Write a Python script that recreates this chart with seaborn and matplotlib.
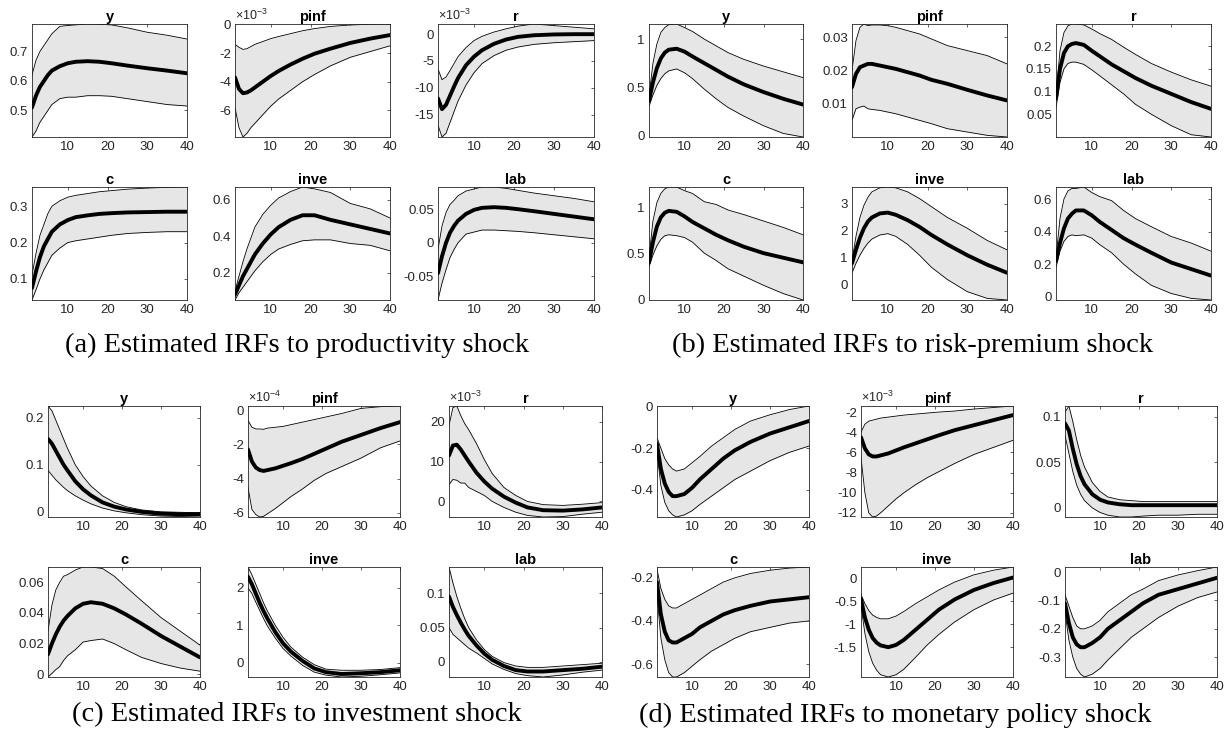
import numpy as np
import pandas as pd
import matplotlib
matplotlib.use("Agg")
import matplotlib.pyplot as plt
import seaborn as sns
from matplotlib.ticker import FuncFormatter

# ---------------- data ----------------
horizons = [1, 2, 3, 4, 5, 6, 8, 10, 12, 15, 18, 21, 25, 30, 35, 40]
variables = ["y", "pinf", "r", "c", "inve", "lab"]
captions = ["(a) Estimated IRFs to productivity shock",
            "(b) Estimated IRFs to risk-premium shock",
            "(c) Estimated IRFs to investment shock",
            "(d) Estimated IRFs to monetary policy shock"]

# (a) productivity shock
prod_y_mean = [0.51, 0.55, 0.58, 0.60, 0.62, 0.635, 0.65, 0.66, 0.665, 0.667, 0.665, 0.66, 0.652, 0.643, 0.635, 0.626]
prod_y_upper = [0.62, 0.67, 0.70, 0.72, 0.74, 0.76, 0.785, 0.788, 0.79, 0.793, 0.792, 0.79, 0.78, 0.765, 0.755, 0.742]
prod_y_lower = [0.41, 0.43, 0.46, 0.48, 0.50, 0.52, 0.54, 0.545, 0.545, 0.55, 0.55, 0.548, 0.54, 0.53, 0.52, 0.515]
prod_pinf_mean = [-3.7, -4.5, -4.8, -4.75, -4.6, -4.4, -4.0, -3.6, -3.25, -2.8, -2.4, -2.05, -1.7, -1.3, -1.0, -0.75]
prod_pinf_upper = [-1.4, -1.6, -1.75, -1.7, -1.55, -1.4, -1.2, -1.0, -0.85, -0.65, -0.45, -0.3, -0.15, -0.05, 0.0, 0.02]
prod_pinf_lower = [-5.8, -7.2, -7.85, -7.6, -7.2, -6.9, -6.3, -5.7, -5.2, -4.6, -4.0, -3.5, -2.9, -2.3, -1.9, -1.5]
prod_r_mean = [-12.0, -14.0, -13.2, -11.5, -9.8, -8.2, -5.8, -4.2, -3.0, -1.8, -1.0, -0.5, -0.2, -0.05, 0.0, 0.0]
prod_r_upper = [-6.5, -8.5, -8.0, -6.8, -5.5, -4.2, -2.5, -1.2, -0.4, 0.4, 1.0, 1.5, 1.9, 1.6, 1.3, 1.0]
prod_r_lower = [-17.0, -19.2, -18.5, -16.5, -14.5, -12.5, -9.5, -7.2, -5.5, -4.0, -3.0, -2.4, -1.9, -1.6, -1.4, -1.2]
prod_c_mean = [0.075, 0.12, 0.16, 0.19, 0.21, 0.23, 0.25, 0.262, 0.27, 0.275, 0.279, 0.281, 0.283, 0.284, 0.285, 0.285]
prod_c_upper = [0.11, 0.17, 0.22, 0.25, 0.28, 0.30, 0.315, 0.325, 0.33, 0.335, 0.34, 0.343, 0.347, 0.35, 0.352, 0.353]
prod_c_lower = [0.042, 0.07, 0.10, 0.125, 0.145, 0.165, 0.185, 0.20, 0.205, 0.21, 0.215, 0.22, 0.225, 0.228, 0.23, 0.23]
prod_inve_mean = [0.08, 0.13, 0.18, 0.22, 0.26, 0.30, 0.36, 0.41, 0.45, 0.49, 0.515, 0.515, 0.49, 0.465, 0.44, 0.415]
prod_inve_upper = [0.10, 0.18, 0.26, 0.33, 0.39, 0.45, 0.52, 0.57, 0.61, 0.645, 0.67, 0.66, 0.64, 0.58, 0.55, 0.50]
prod_inve_lower = [0.05, 0.09, 0.12, 0.15, 0.18, 0.21, 0.26, 0.30, 0.33, 0.355, 0.375, 0.38, 0.38, 0.36, 0.35, 0.32]
prod_lab_mean = [-0.045, -0.02, 0.0, 0.015, 0.025, 0.033, 0.043, 0.049, 0.052, 0.053, 0.052, 0.05, 0.047, 0.043, 0.039, 0.035]
prod_lab_upper = [-0.01, 0.025, 0.045, 0.057, 0.063, 0.07, 0.077, 0.08, 0.083, 0.083, 0.081, 0.078, 0.074, 0.07, 0.066, 0.061]
prod_lab_lower = [-0.085, -0.06, -0.04, -0.022, -0.01, 0.0, 0.013, 0.016, 0.019, 0.019, 0.018, 0.017, 0.015, 0.012, 0.009, 0.006]

# (b) risk-premium shock
risk_y_mean = [0.36, 0.55, 0.70, 0.80, 0.86, 0.89, 0.90, 0.87, 0.82, 0.75, 0.68, 0.61, 0.53, 0.45, 0.38, 0.32]
risk_y_upper = [0.40, 0.75, 0.95, 1.07, 1.12, 1.15, 1.157, 1.12, 1.08, 1.0, 0.93, 0.86, 0.79, 0.72, 0.66, 0.60]
risk_y_lower = [0.30, 0.42, 0.52, 0.59, 0.64, 0.67, 0.69, 0.65, 0.59, 0.48, 0.38, 0.29, 0.20, 0.10, 0.02, -0.017]
risk_pinf_mean = [0.015, 0.019, 0.021, 0.0215, 0.022, 0.022, 0.0215, 0.021, 0.0205, 0.0195, 0.0185, 0.0172, 0.016, 0.0142, 0.0125, 0.011]
risk_pinf_upper = [0.020, 0.029, 0.033, 0.034, 0.0335, 0.0337, 0.0337, 0.0335, 0.033, 0.032, 0.031, 0.0295, 0.0275, 0.026, 0.0245, 0.022]
risk_pinf_lower = [0.005, 0.0085, 0.009, 0.0093, 0.0085, 0.0083, 0.008, 0.0075, 0.007, 0.006, 0.005, 0.004, 0.0025, 0.0015, 0.0005, 0.0]
risk_r_mean = [0.085, 0.15, 0.185, 0.20, 0.205, 0.207, 0.203, 0.19, 0.178, 0.16, 0.145, 0.13, 0.113, 0.095, 0.077, 0.062]
risk_r_upper = [0.09, 0.19, 0.23, 0.245, 0.249, 0.249, 0.247, 0.238, 0.228, 0.215, 0.198, 0.182, 0.162, 0.143, 0.126, 0.112]
risk_r_lower = [0.065, 0.12, 0.15, 0.162, 0.165, 0.165, 0.16, 0.148, 0.135, 0.115, 0.095, 0.072, 0.05, 0.025, 0.005, 0.0]
risk_c_mean = [0.40, 0.62, 0.79, 0.89, 0.94, 0.96, 0.95, 0.90, 0.84, 0.77, 0.70, 0.64, 0.57, 0.50, 0.45, 0.40]
risk_c_upper = [0.45, 0.85, 1.05, 1.15, 1.20, 1.22, 1.22, 1.18, 1.15, 1.06, 1.03, 0.97, 0.92, 0.85, 0.78, 0.70]
risk_c_lower = [0.35, 0.48, 0.58, 0.65, 0.69, 0.70, 0.69, 0.67, 0.62, 0.50, 0.42, 0.33, 0.25, 0.15, 0.06, -0.01]
risk_inve_mean = [0.8, 1.3, 1.75, 2.1, 2.35, 2.5, 2.65, 2.68, 2.6, 2.4, 2.15, 1.85, 1.5, 1.1, 0.75, 0.45]
risk_inve_upper = [0.9, 1.8, 2.5, 2.95, 3.25, 3.45, 3.6, 3.63, 3.6, 3.45, 3.2, 2.9, 2.5, 2.1, 1.65, 1.3]
risk_inve_lower = [0.45, 0.8, 1.1, 1.35, 1.55, 1.7, 1.85, 1.9, 1.8, 1.5, 1.1, 0.65, 0.2, -0.25, -0.5, -0.56]
risk_lab_mean = [0.22, 0.33, 0.42, 0.48, 0.51, 0.53, 0.53, 0.50, 0.46, 0.41, 0.36, 0.32, 0.27, 0.21, 0.17, 0.13]
risk_lab_upper = [0.24, 0.48, 0.60, 0.65, 0.665, 0.665, 0.674, 0.64, 0.615, 0.59, 0.53, 0.48, 0.43, 0.37, 0.33, 0.28]
risk_lab_lower = [0.18, 0.28, 0.34, 0.37, 0.38, 0.375, 0.38, 0.36, 0.32, 0.27, 0.20, 0.14, 0.07, 0.02, -0.01, -0.02]

# (c) investment shock
inv_y_mean = [0.155, 0.145, 0.13, 0.115, 0.10, 0.088, 0.065, 0.048, 0.035, 0.02, 0.011, 0.005, 0.0, -0.004, -0.005, -0.005]
inv_y_upper = [0.225, 0.215, 0.195, 0.175, 0.155, 0.135, 0.10, 0.075, 0.055, 0.034, 0.02, 0.011, 0.004, 0.0, -0.001, -0.002]
inv_y_lower = [0.088, 0.078, 0.068, 0.06, 0.052, 0.045, 0.034, 0.025, 0.017, 0.008, 0.002, -0.002, -0.006, -0.009, -0.01, -0.011]
inv_pinf_mean = [-2.3, -3.0, -3.35, -3.5, -3.55, -3.5, -3.4, -3.25, -3.1, -2.85, -2.55, -2.25, -1.85, -1.45, -1.05, -0.7]
inv_pinf_upper = [-0.6, -1.0, -1.1, -1.1, -1.12, -1.05, -1.0, -0.95, -0.85, -0.7, -0.55, -0.4, -0.2, 0.1, 0.2, 0.24]
inv_pinf_lower = [-4.5, -5.8, -6.1, -6.24, -6.2, -6.05, -5.75, -5.4, -5.05, -4.6, -4.1, -3.7, -3.3, -2.8, -2.2, -1.8]
inv_r_mean = [11.5, 14.0, 14.2, 13.0, 11.5, 10.0, 7.2, 5.0, 3.2, 1.2, -0.3, -1.5, -2.2, -2.3, -2.0, -1.5]
inv_r_upper = [19.0, 23.5, 23.9, 21.5, 19.5, 18.0, 14.5, 10.5, 7.0, 3.5, 1.5, 0.0, -0.8, -1.0, -0.7, -0.3]
inv_r_lower = [4.2, 5.5, 5.3, 4.6, 4.6, 3.5, 2.5, 1.5, 0.0, -1.5, -2.7, -3.5, -3.9, -3.8, -3.2, -2.7]
inv_c_mean = [0.013, 0.02, 0.026, 0.031, 0.035, 0.038, 0.043, 0.046, 0.047, 0.046, 0.043, 0.039, 0.033, 0.025, 0.018, 0.011]
inv_c_upper = [0.028, 0.045, 0.055, 0.06, 0.064, 0.065, 0.068, 0.07, 0.07, 0.069, 0.064, 0.057, 0.048, 0.037, 0.028, 0.019]
inv_c_lower = [-0.0018, 0.0005, 0.003, 0.005, 0.009, 0.012, 0.016, 0.021, 0.022, 0.023, 0.02, 0.016, 0.011, 0.007, 0.004, 0.002]
inv_inve_mean = [2.3, 2.1, 1.85, 1.6, 1.38, 1.18, 0.82, 0.52, 0.30, 0.05, -0.15, -0.25, -0.30, -0.28, -0.25, -0.20]
inv_inve_upper = [2.56, 2.35, 2.1, 1.85, 1.6, 1.38, 1.0, 0.68, 0.42, 0.15, -0.05, -0.17, -0.2, -0.2, -0.18, -0.13]
inv_inve_lower = [2.0, 1.85, 1.62, 1.4, 1.18, 0.98, 0.66, 0.38, 0.18, -0.07, -0.25, -0.33, -0.38, -0.36, -0.32, -0.27]
inv_lab_mean = [0.095, 0.08, 0.068, 0.057, 0.047, 0.038, 0.024, 0.012, 0.003, -0.006, -0.012, -0.014, -0.014, -0.012, -0.01, -0.007]
inv_lab_upper = [0.138, 0.115, 0.095, 0.078, 0.063, 0.05, 0.032, 0.018, 0.008, -0.001, -0.006, -0.008, -0.008, -0.006, -0.004, -0.002]
inv_lab_lower = [0.05, 0.04, 0.035, 0.03, 0.025, 0.02, 0.013, 0.005, -0.003, -0.011, -0.017, -0.02, -0.022, -0.019, -0.015, -0.012]

# (d) monetary policy shock
mon_y_mean = [-0.18, -0.30, -0.37, -0.41, -0.43, -0.43, -0.42, -0.39, -0.35, -0.30, -0.25, -0.21, -0.17, -0.13, -0.10, -0.07]
mon_y_upper = [-0.15, -0.20, -0.25, -0.28, -0.30, -0.31, -0.30, -0.27, -0.24, -0.19, -0.15, -0.11, -0.07, -0.04, -0.015, 0.002]
mon_y_lower = [-0.22, -0.38, -0.46, -0.50, -0.52, -0.53, -0.52, -0.50, -0.47, -0.43, -0.39, -0.35, -0.31, -0.26, -0.22, -0.19]
mon_pinf_mean = [-4.5, -5.6, -6.2, -6.4, -6.4, -6.3, -6.1, -5.8, -5.5, -5.1, -4.7, -4.3, -3.8, -3.3, -2.8, -2.3]
mon_pinf_upper = [-4.0, -3.2, -2.9, -2.8, -2.7, -2.6, -2.5, -2.4, -2.3, -2.2, -2.1, -2.0, -1.9, -1.7, -1.55, -1.4]
mon_pinf_lower = [-6.5, -10.0, -12.0, -12.4, -12.3, -12.0, -11.3, -10.6, -10.0, -9.2, -8.5, -7.9, -7.1, -6.2, -5.5, -4.8]
mon_r_mean = [0.093, 0.085, 0.065, 0.048, 0.035, 0.026, 0.015, 0.009, 0.006, 0.004, 0.003, 0.003, 0.003, 0.003, 0.003, 0.003]
mon_r_upper = [0.105, 0.112, 0.095, 0.075, 0.058, 0.045, 0.028, 0.018, 0.012, 0.009, 0.008, 0.007, 0.007, 0.007, 0.007, 0.007]
mon_r_lower = [0.08, 0.06, 0.04, 0.025, 0.015, 0.008, 0.0, -0.005, -0.008, -0.01, -0.01, -0.009, -0.008, -0.008, -0.007, -0.007]
mon_c_mean = [-0.22, -0.37, -0.45, -0.49, -0.50, -0.50, -0.48, -0.46, -0.43, -0.40, -0.37, -0.35, -0.33, -0.31, -0.30, -0.29]
mon_c_upper = [-0.16, -0.25, -0.30, -0.33, -0.34, -0.34, -0.32, -0.30, -0.28, -0.25, -0.22, -0.20, -0.18, -0.165, -0.155, -0.15]
mon_c_lower = [-0.28, -0.48, -0.58, -0.64, -0.66, -0.66, -0.64, -0.61, -0.58, -0.54, -0.51, -0.48, -0.45, -0.43, -0.41, -0.40]
mon_inve_mean = [-0.45, -0.85, -1.12, -1.3, -1.4, -1.46, -1.5, -1.45, -1.34, -1.12, -0.9, -0.68, -0.46, -0.25, -0.1, 0.02]
mon_inve_upper = [-0.35, -0.55, -0.7, -0.8, -0.85, -0.88, -0.88, -0.82, -0.72, -0.55, -0.4, -0.25, -0.08, 0.08, 0.18, 0.25]
mon_inve_lower = [-0.6, -1.2, -1.6, -1.85, -2.0, -2.1, -2.15, -2.1, -1.98, -1.72, -1.45, -1.22, -0.95, -0.68, -0.47, -0.32]
mon_lab_mean = [-0.11, -0.18, -0.23, -0.255, -0.265, -0.265, -0.25, -0.23, -0.20, -0.17, -0.14, -0.11, -0.08, -0.06, -0.04, -0.02]
mon_lab_upper = [-0.08, -0.12, -0.16, -0.19, -0.20, -0.20, -0.19, -0.17, -0.14, -0.11, -0.08, -0.06, -0.03, -0.01, 0.005, 0.018]
mon_lab_lower = [-0.14, -0.24, -0.30, -0.34, -0.36, -0.37, -0.36, -0.34, -0.31, -0.27, -0.23, -0.20, -0.16, -0.12, -0.09, -0.07]

# axis multipliers shown as "x10^n" (values above are in those units)
prod_exps = [0, -3, -3, 0, 0, 0]
risk_exps = [0, 0, 0, 0, 0, 0]
inv_exps = [0, -4, -3, 0, 0, 0]
mon_exps = [0, -3, 0, 0, 0, 0]

# y tick values
prod_yticks = [[0.5, 0.6, 0.7], [-6, -4, -2, 0], [-15, -10, -5, 0], [0.1, 0.2, 0.3], [0.2, 0.4, 0.6], [-0.05, 0, 0.05]]
risk_yticks = [[0, 0.5, 1], [0.01, 0.02, 0.03], [0.05, 0.1, 0.15, 0.2], [0, 0.5, 1], [0, 1, 2, 3], [0, 0.2, 0.4, 0.6]]
inv_yticks = [[0, 0.1, 0.2], [-6, -4, -2, 0], [0, 10, 20], [0, 0.02, 0.04, 0.06], [0, 1, 2], [0, 0.05, 0.1]]
mon_yticks = [[-0.4, -0.2, 0], [-12, -10, -8, -6, -4, -2], [0, 0.05, 0.1], [-0.6, -0.4, -0.2], [-1.5, -1, -0.5, 0], [-0.3, -0.2, -0.1, 0]]
xticks = [10, 20, 30, 40]

g = globals()
groups = []
for prefix, exps, yt in [("prod", prod_exps, prod_yticks), ("risk", risk_exps, risk_yticks),
                         ("inv", inv_exps, inv_yticks), ("mon", mon_exps, mon_yticks)]:
    panels = []
    for i, v in enumerate(variables):
        panels.append(dict(name=v, mean=g[f"{prefix}_{v}_mean"], upper=g[f"{prefix}_{v}_upper"],
                           lower=g[f"{prefix}_{v}_lower"], exp=exps[i], yticks=yt[i]))
    groups.append(panels)

# ---------------- style ----------------
sns.set_theme(style="white")
plt.rcParams["font.family"] = ["Liberation Sans", "DejaVu Sans"]
plt.rcParams["axes.unicode_minus"] = False
plt.rcParams["mathtext.fontset"] = "custom"
plt.rcParams["mathtext.rm"] = "Liberation Sans"

W, H = 1228, 745
fig = plt.figure(figsize=(W / 100, H / 100), dpi=100)
fig.patch.set_facecolor("white")

# panel boxes in pixels: columns (left,right) and rows (top,bottom) per group
group_cols = [[(32, 187), (235, 390), (438, 594)],
              [(649, 803), (852, 1007), (1056, 1211)],
              [(48, 200), (248, 400), (449, 602)],
              [(657, 809), (861, 1013), (1065, 1217)]]
group_rows = [[(24, 137), (187, 300)],
              [(24, 137), (187, 300)],
              [(406, 517), (567, 677)],
              [(406, 517), (567, 677)]]
caption_pos = [(297, 345), (913, 345), (297, 715), (895, 715)]

edge = "#262626"
fmt = FuncFormatter(lambda v, p: f"{v:g}")

for gi, panels in enumerate(groups):
    for pi, pnl in enumerate(panels):
        (l, r) = group_cols[gi][pi % 3]
        (t, b) = group_rows[gi][pi // 3]
        ax = fig.add_axes([l / W, 1 - b / H, (r - l) / W, (b - t) / H])
        df = pd.DataFrame({"h": horizons, "mean": pnl["mean"], "upper": pnl["upper"], "lower": pnl["lower"]})
        ax.fill_between(df["h"], df["lower"], df["upper"], color="#e6e6e6", lw=0, zorder=1)
        sns.lineplot(data=df, x="h", y="upper", color="black", lw=0.6, ax=ax, zorder=2)
        sns.lineplot(data=df, x="h", y="lower", color="black", lw=0.6, ax=ax, zorder=2)
        sns.lineplot(data=df, x="h", y="mean", color="black", lw=2.8, ax=ax, zorder=3)
        ax.set_xlim(1, 40)
        ax.set_ylim(min(pnl["lower"]), max(pnl["upper"]))
        ax.set_xticks(xticks)
        ax.set_yticks(pnl["yticks"])
        ax.yaxis.set_major_formatter(fmt)
        ax.set_xlabel("")
        ax.set_ylabel("")
        ax.tick_params(direction="in", top=True, right=True, length=2.5, width=0.5,
                       labelsize=9.5, labelcolor=edge, color=edge, pad=3)
        for s in ax.spines.values():
            s.set_color(edge)
            s.set_linewidth(0.6)
        ax.set_title(pnl["name"], fontsize=10.5, fontweight="bold", pad=2.5, color="black")
        if pnl["exp"]:
            ax.text(0.0, 1.01, r"$\times$10$^{%d}$" % pnl["exp"], transform=ax.transAxes,
                    ha="left", va="bottom", fontsize=9, color=edge)
    cx, cy = caption_pos[gi]
    fig.text(cx / W, 1 - cy / H, captions[gi], ha="center", va="center",
             family="Liberation Serif", fontsize=20.5, color="black")

fig.savefig("out.png", dpi=100, facecolor="white")
